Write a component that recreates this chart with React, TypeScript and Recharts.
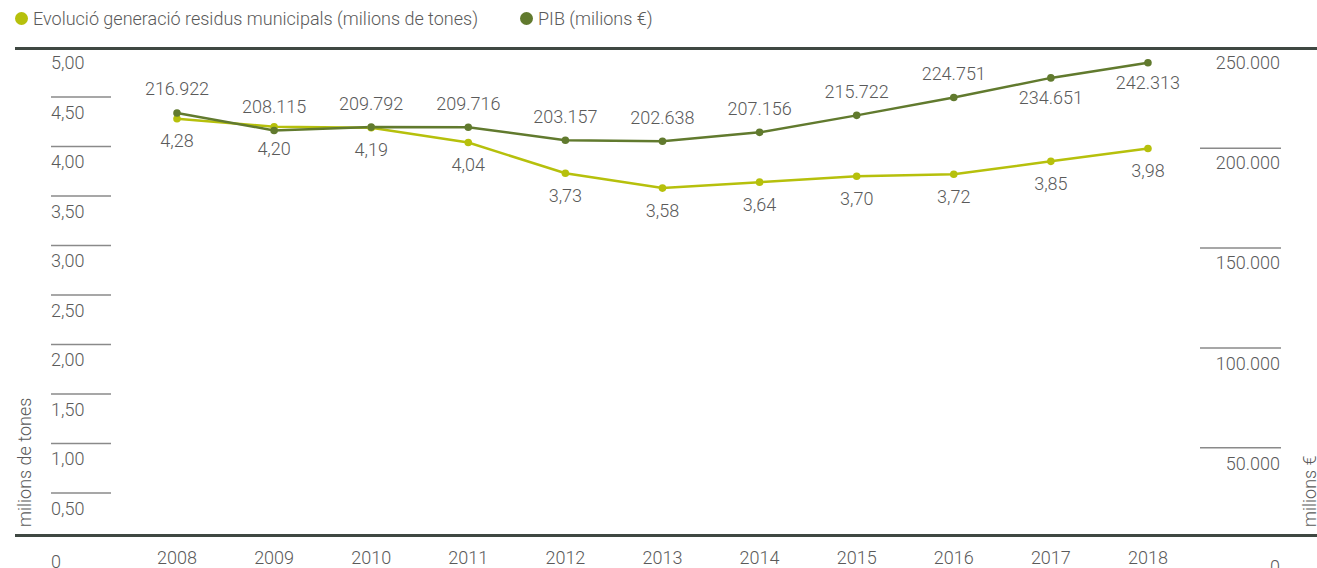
import React from "react";
import { LineChart, Line, XAxis, YAxis, LabelList } from "recharts";

const years = ["2008", "2009", "2010", "2011", "2012", "2013", "2014", "2015", "2016", "2017", "2018"];
const residus = [4.28, 4.2, 4.19, 4.04, 3.73, 3.58, 3.64, 3.7, 3.72, 3.85, 3.98];
const pib = [216922, 208115, 209792, 209716, 203157, 202638, 207156, 215722, 224751, 234651, 242313];
const leftTicks = [0, 0.5, 1, 1.5, 2, 2.5, 3, 3.5, 4, 4.5, 5];
const rightTicks = [0, 50000, 100000, 150000, 200000, 250000];
const seriesNames = ["Evolució generació residus municipals (milions de tones)", "PIB (milions €)"];
const axisTitles = ["milions de tones", "milions €"];

const data = years.map((y, i) => ({ year: y, residus: residus[i], pib: pib[i] }));

const FONT = "Roboto, 'Liberation Sans', sans-serif";
const FS = 18;
const TEXT = "#5a5a5a";
const LIGHT = "#b6c00c";
const DARK = "#617a2e";
const RULE = "#3f4842";

const fmtDec = (v: number) => v.toFixed(2).replace(".", ",");
const fmtThousands = (v: number) =>
  v === 0 ? "0" : Math.round(v).toString().replace(/\B(?=(\d{3})+(?!\d))/g, ".");

const LeftTick = (props: any) => {
  const { y, payload } = props;
  const v = payload.value;
  const isTop = v === 5;
  const isZero = v === 0;
  return (
    <g>
      {!isTop && !isZero && <line x1={51} x2={111} y1={y} y2={y} stroke="#8a8a8a" strokeWidth={1.5} />}
      <text x={51} y={y + (isZero ? 18.5 : 15)} dominantBaseline="central" fill={TEXT} fontSize={FS} fontFamily={FONT} fontWeight={300}>
        {isZero ? "0" : fmtDec(v)}
      </text>
    </g>
  );
};

const RightTick = (props: any) => {
  const { y, payload } = props;
  const v = payload.value;
  const isTop = v === 250000;
  const isZero = v === 0;
  const shift = (250000 - v) / 50000;
  return (
    <g>
      {!isTop && !isZero && (
        <line x1={1200} x2={1281} y1={y + 1 + shift * 0.8} y2={y + 1 + shift * 0.8} stroke="#8a8a8a" strokeWidth={1.5} />
      )}
      <text x={1280} y={y + 14.5 + shift * 1.4 + (isZero ? 2 : 0)} textAnchor="end" dominantBaseline="central" fill={TEXT} fontSize={FS} fontFamily={FONT} fontWeight={300}>
        {fmtThousands(v)}
      </text>
    </g>
  );
};

const YearTick = (props: any) => {
  const { x, payload } = props;
  return (
    <text x={x} y={557} textAnchor="middle" dominantBaseline="central" fill={TEXT} fontSize={FS} fontFamily={FONT} fontWeight={300}>
      {payload.value}
    </text>
  );
};

const ResidusLabel = (props: any) => {
  const { x, y, value } = props;
  return (
    <text x={x} y={y + 22} textAnchor="middle" dominantBaseline="central" fill={TEXT} fontSize={FS} fontFamily={FONT} fontWeight={300}>
      {fmtDec(value)}
    </text>
  );
};

const PibLabel = (props: any) => {
  const { x, y, value, index } = props;
  const below = index >= 9;
  return (
    <text x={x} y={below ? y + 20 : y - 24} textAnchor="middle" dominantBaseline="central" fill={TEXT} fontSize={FS} fontFamily={FONT} fontWeight={300}>
      {fmtThousands(value)}
    </text>
  );
};

const App = () => {
  return (
    <div style={{ position: "absolute", left: 0, top: 0, width: 1317, height: 568, fontFamily: FONT, background: "#fff" }}>
      <div style={{ position: "absolute", left: 15, top: 8, display: "flex", alignItems: "center", fontSize: FS, fontWeight: 300, color: TEXT }}>
        {seriesNames.map((name, i) => (
          <div key={name} style={{ display: "flex", alignItems: "center", marginRight: i === 0 ? 42 : 0 }}>
            <span style={{ display: "inline-block", width: 13, height: 13, borderRadius: "50%", background: i === 0 ? LIGHT : DARK, marginRight: 5 }} />
            <span>{name}</span>
          </div>
        ))}
      </div>
      <div style={{ position: "absolute", left: 15, right: 0, top: 47, height: 3, background: RULE }} />
      <div style={{ position: "absolute", left: 15, right: 0, top: 534, height: 3, background: RULE }} />
      <LineChart width={1317} height={568} data={data} margin={{ top: 47.5, right: 0, bottom: 0, left: 0 }}>
        <XAxis
          dataKey="year"
          height={25.5}
          axisLine={false}
          tickLine={false}
          padding={{ left: 48.55, right: 48.55 }}
          tick={<YearTick />}
          interval={0}
        />
        <YAxis
          yAxisId="left"
          orientation="left"
          width={128.45}
          domain={[0, 5]}
          ticks={leftTicks}
          axisLine={false}
          tickLine={false}
          tick={<LeftTick />}
          interval={0}
          label={{
            content: () => (
              <text x={24} y={527} transform="rotate(-90, 24, 527)" dominantBaseline="central" fill={TEXT} fontSize={FS} fontFamily={FONT} fontWeight={300}>
                {axisTitles[0]}
              </text>
            ),
          }}
        />
        <YAxis
          yAxisId="right"
          orientation="right"
          width={120.5}
          domain={[0, 250000]}
          ticks={rightTicks}
          axisLine={false}
          tickLine={false}
          tick={<RightTick />}
          interval={0}
          label={{
            content: () => (
              <text x={1309} y={527} transform="rotate(-90, 1309, 527)" dominantBaseline="central" fill={TEXT} fontSize={FS} fontFamily={FONT} fontWeight={300}>
                {axisTitles[1]}
              </text>
            ),
          }}
        />
        <Line
          yAxisId="left"
          dataKey="residus"
          stroke={LIGHT}
          strokeWidth={2.5}
          dot={{ r: 3.8, fill: LIGHT, stroke: LIGHT, strokeWidth: 0 }}
          isAnimationActive={false}
        >
          <LabelList dataKey="residus" content={<ResidusLabel />} />
        </Line>
        <Line
          yAxisId="right"
          dataKey="pib"
          stroke={DARK}
          strokeWidth={2.5}
          dot={{ r: 3.8, fill: DARK, stroke: DARK, strokeWidth: 0 }}
          isAnimationActive={false}
        >
          <LabelList dataKey="pib" content={<PibLabel />} />
        </Line>
      </LineChart>
    </div>
  );
};

export default App;
